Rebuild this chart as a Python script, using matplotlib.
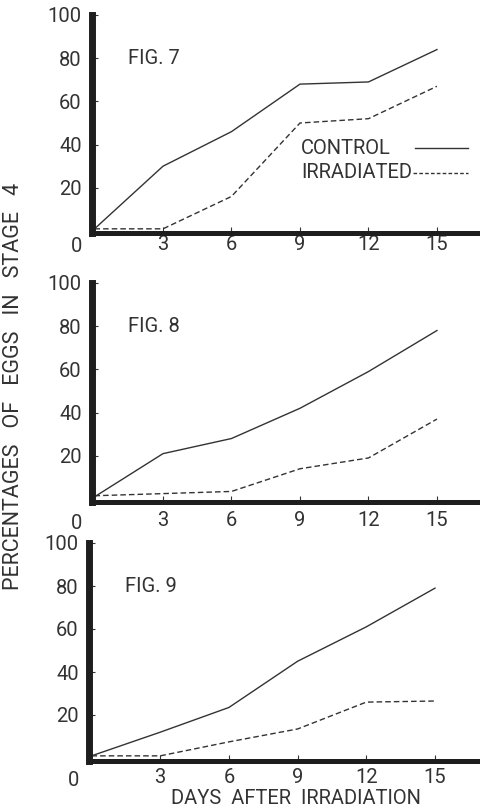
import matplotlib
matplotlib.use("Agg")
import matplotlib.pyplot as plt

days = [0, 3, 6, 9, 12, 15]
fig7_control = [1, 30, 46, 68, 69, 84]
fig7_irradiated = [1, 1, 16, 50, 52, 67]
fig8_control = [1, 21, 28, 42, 59, 78]
fig8_irradiated = [1.5, 2.5, 3.5, 14, 19, 37]
fig9_control = [1, 12, 23.5, 45, 61, 79]
fig9_irradiated = [1, 1, 7.5, 13.5, 26, 26.5]
panel_titles = ["FIG. 7", "FIG. 8", "FIG. 9"]
xtick_values = [3, 6, 9, 12, 15]
xtick_labels = ["3", "6", "9", "12", "15"]
ytick_values = [20, 40, 60, 80, 100]
ytick_labels = ["20", "40", "60", "80", "100"]
legend_labels = ["CONTROL", "IRRADIATED"]
ylabel_text = "PERCENTAGES   OF   EGGS   IN   STAGE   4"
xlabel_text = "DAYS  AFTER  IRRADIATION"

W, H = 481, 810
FONT = "Roboto"
FW = "normal"
FS = 14.5
INK = "#333333"
AXC = "#1e1e1e"
DASH = (0, (4, 2.2))

fig = plt.figure(figsize=(W / 100, H / 100), dpi=100, facecolor="white")

# pixel layout specs: x0 (data x=0), px per x unit, y100 px, y0 px, spine y px, xtick pad
panels = [
    dict(x0=94.5, ppx=22.83, y100=15, y0=231, sy=232.5, pad=1.5,
         c=fig7_control, r=fig7_irradiated),
    dict(x0=94.5, ppx=22.83, y100=283, y0=499, sy=502, pad=6.5,
         c=fig8_control, r=fig8_irradiated),
    dict(x0=91.5, ppx=22.9, y100=543, y0=758, sy=761, pad=5,
         c=fig9_control, r=fig9_irradiated),
]

xmin, xmax = -0.13, 17.2
for i, p in enumerate(panels):
    ppy = (p["y0"] - p["y100"]) / 100.0
    ymin = -(p["sy"] - p["y0"]) / ppy
    left = p["x0"] + xmin * p["ppx"]
    right = p["x0"] + xmax * p["ppx"]
    top = p["y100"]
    bottom = p["sy"]
    ax = fig.add_axes([left / W, 1 - bottom / H, (right - left) / W, (bottom - top) / H])
    ax.set_xlim(xmin, xmax)
    ax.set_ylim(ymin, 100)
    ax.patch.set_alpha(0)
    for s in ["top", "right"]:
        ax.spines[s].set_visible(False)
    ax.spines["left"].set_linewidth(5.0)
    ax.spines["left"].set_color(AXC)
    ax.spines["bottom"].set_linewidth(3.6)
    ax.spines["bottom"].set_color(AXC)
    ax.spines["left"].set_capstyle("projecting")
    ax.spines["bottom"].set_capstyle("projecting")

    ax.plot(days, p["c"], color=INK, lw=1.0, solid_joinstyle="miter")
    ax.plot(days, p["r"], color=INK, lw=1.0, linestyle=DASH)

    ax.set_xticks(xtick_values)
    ax.set_xticklabels(xtick_labels)
    ax.set_yticks(ytick_values)
    ax.set_yticklabels(ytick_labels)
    ax.tick_params(axis="x", direction="in", length=4, width=0.8, color=INK,
                   pad=p["pad"], labelsize=FS, labelcolor=INK)
    ax.tick_params(axis="y", direction="in", length=4, width=0.8, color=INK,
                   pad=7, labelsize=FS, labelcolor=INK)
    for lab in ax.get_xticklabels() + ax.get_yticklabels():
        lab.set_fontfamily(FONT)
        lab.set_fontweight(FW)

    ax.annotate("0", xy=(0, ymin), xycoords="data", xytext=(-13, -p["pad"] - 2),
                textcoords="offset points", ha="center", va="top",
                fontsize=FS, family=FONT, weight=FW, color=INK)

    ax.text(1.45, 80, panel_titles[i], ha="left", va="center", fontsize=FS,
            family=FONT, weight=FW, color=INK)

    if i == 0:
        # legend: labels left-aligned, line samples ending at a common right edge
        tr = ax.transAxes
        ax.text(0.5295, 0.3885, legend_labels[0], transform=tr, ha="left",
                va="center", fontsize=FS, family=FONT, weight=FW, color=INK)
        ax.text(0.5295, 0.2736, legend_labels[1], transform=tr, ha="left",
                va="center", fontsize=FS, family=FONT, weight=FW, color=INK)
        ax.plot([0.8176, 0.9516], [0.3885, 0.3885], transform=tr, color=INK, lw=1.0)
        ax.plot([0.8126, 0.9516], [0.2736, 0.2736], transform=tr, color=INK, lw=1.0,
                linestyle=(0, (2.6, 1.6)))

fig.text(14 / W, 1 - 386 / H, ylabel_text, rotation=90, ha="center", va="center",
         fontsize=15.5, family=FONT, weight=FW, color=INK)
fig.text(296 / W, 1 - 799 / H, xlabel_text, ha="center", va="center",
         fontsize=FS, family=FONT, weight=FW, color=INK)

fig.savefig("out.png", dpi=100, facecolor="white")
